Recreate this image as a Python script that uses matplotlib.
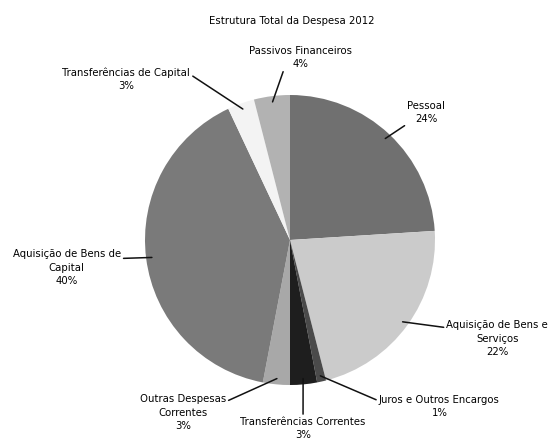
import numpy as np
import matplotlib
matplotlib.use('Agg')
import matplotlib.pyplot as plt

# Estrutura da despesa total (%), ordem dos sectores a partir do topo, sentido horário
categorias = ['Pessoal', 'Aquisição de Bens e\nServiços', 'Juros e Outros Encargos',
              'Transferências Correntes', 'Outras Despesas\nCorrentes',
              'Aquisição de Bens de\nCapital', 'Transferências de Capital',
              'Passivos Financeiros']
valores = [24, 22, 1, 3, 3, 40, 3, 4]
cores = ['#707070', '#cbcbcb', '#4a4a4a', '#1e1e1e', '#a8a8a8',
         '#7a7a7a', '#f3f3f3', '#b2b2b2']

# posição do texto (unidades do raio) e ponto da caixa de onde sai a linha
pos_texto = [(0.94, 0.88), (1.43, -0.68), (1.03, -1.15), (0.09, -1.30),
             (-0.74, -1.19), (-1.54, -0.19), (-1.13, 1.11), (0.07, 1.26)]
relpos = [(0.13, 0.15), (0.0, 0.8), (0.0, 0.75), (0.5, 1.0),
          (1.0, 0.8), (1.0, 0.75), (1.0, 0.7), (0.36, 0.2)]

fig = plt.figure(figsize=(5.55, 4.4), dpi=100)
fig.text(0.525, 0.953, 'Estrutura Total da Despesa 2012', ha='center', va='center',
         fontsize=7.3, color='#000000')

ax = fig.add_axes([145 / 555, 55 / 440, 290 / 555, 290 / 440])
wedges, _ = ax.pie(valores, colors=cores, startangle=90, counterclock=False,
                   radius=1.0, wedgeprops=dict(linewidth=0))
ax.set_xlim(-1, 1)
ax.set_ylim(-1, 1)
ax.set_aspect('equal')

for w, nome, v, (tx, ty), rp in zip(wedges, categorias, valores, pos_texto, relpos):
    ang = np.deg2rad((w.theta1 + w.theta2) / 2)
    ponto = (0.96 * np.cos(ang), 0.96 * np.sin(ang))
    ax.annotate('%s\n%d%%' % (nome, v), xy=ponto, xytext=(tx, ty),
                ha='center', va='center', fontsize=7.3, linespacing=1.4,
                color='#000000', annotation_clip=False,
                arrowprops=dict(arrowstyle='-', color='#111111', lw=1.1,
                                relpos=rp, shrinkA=0, shrinkB=0))

fig.savefig('out.png', dpi=100)
